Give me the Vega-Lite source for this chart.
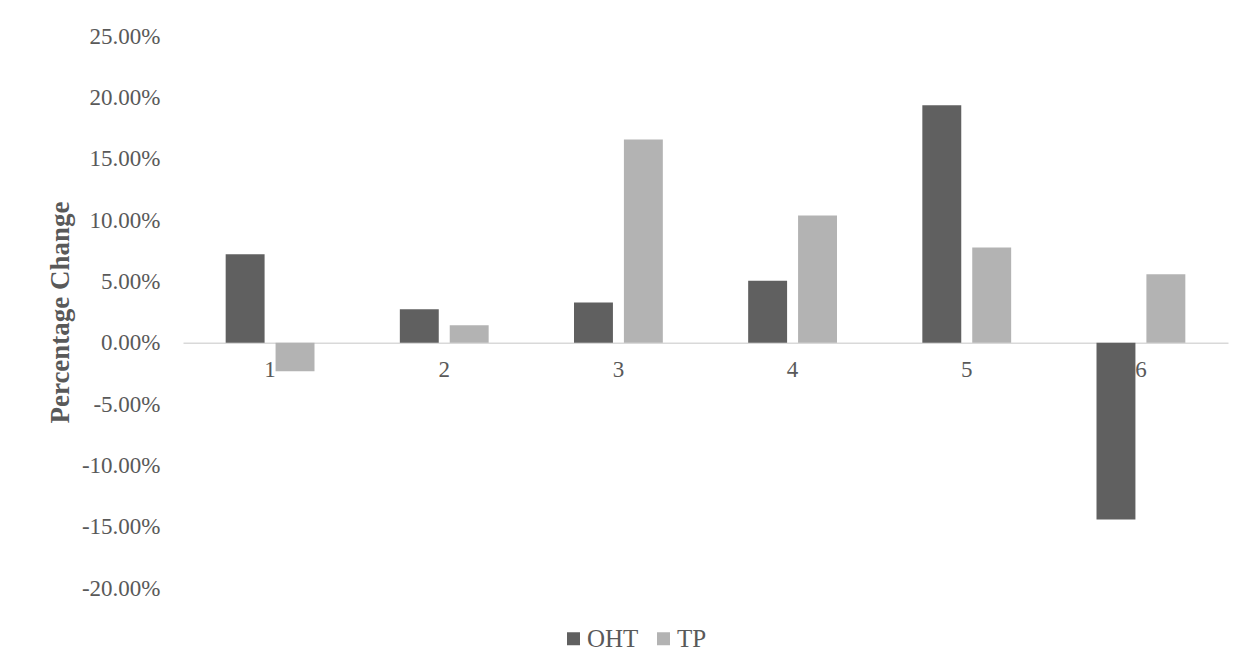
{
  "$schema": "https://vega.github.io/schema/vega-lite/v6.json",
  "autosize": {"type": "none"},
  "padding": {"left": 183, "top": 36, "right": 24, "bottom": 84},
  "width": 1045,
  "height": 552,
  "background": "white",
  "config": {
    "view": {"stroke": null},
    "font": "Liberation Serif",
    "axis": {"labelFont": "Liberation Serif", "titleFont": "Liberation Serif", "labelColor": "#595959", "titleColor": "#595959"},
    "legend": {"labelFont": "Liberation Serif", "labelColor": "#595959"}
  },
  "data": {
    "values": [
      {"group": "1", "series": "OHT", "value": 0.072},
      {"group": "1", "series": "TP", "value": -0.0234},
      {"group": "2", "series": "OHT", "value": 0.0272},
      {"group": "2", "series": "TP", "value": 0.0143},
      {"group": "3", "series": "OHT", "value": 0.0328},
      {"group": "3", "series": "TP", "value": 0.1657},
      {"group": "4", "series": "OHT", "value": 0.0505},
      {"group": "4", "series": "TP", "value": 0.1037},
      {"group": "5", "series": "OHT", "value": 0.1936},
      {"group": "5", "series": "TP", "value": 0.0775},
      {"group": "6", "series": "OHT", "value": -0.1441},
      {"group": "6", "series": "TP", "value": 0.0557}
    ]
  },
  "mark": {"type": "bar"},
  "encoding": {
    "x": {
      "field": "group",
      "type": "nominal",
      "scale": {"paddingInner": 0.49, "paddingOuter": 0.245},
      "axis": {
        "title": null,
        "labelAngle": 0,
        "labelFontSize": 23,
        "labelPadding": 16,
        "ticks": false,
        "domainColor": "#d9d9d9",
        "domainWidth": 1.5,
        "offset": -245.33,
        "zindex": 0
      }
    },
    "xOffset": {
      "field": "series",
      "type": "nominal",
      "scale": {"paddingInner": 0.22, "paddingOuter": 0}
    },
    "y": {
      "field": "value",
      "type": "quantitative",
      "scale": {"domain": [-0.2, 0.25], "nice": false, "zero": false},
      "axis": {
        "title": "Percentage Change",
        "titleFontSize": 27,
        "titleFontWeight": "bold",
        "titlePadding": 7,
        "labelExpr": "replace(format(datum.value, '.2%'), '\u2212', '-')",
        "values": [-0.2, -0.15, -0.1, -0.05, 0, 0.05, 0.1, 0.15, 0.2, 0.25],
        "labelFontSize": 23,
        "labelPadding": 23,
        "ticks": false,
        "domain": false,
        "grid": false
      }
    },
    "color": {
      "field": "series",
      "type": "nominal",
      "scale": {"domain": ["OHT", "TP"], "range": ["#606060", "#b3b3b3"]},
      "legend": {
        "title": null,
        "orient": "none",
        "legendX": 378,
        "legendY": 590,
        "direction": "horizontal",
        "symbolType": "square",
        "symbolSize": 169,
        "symbolStrokeWidth": 0,
        "labelFontSize": 25,
        "labelOffset": 1,
        "columnPadding": 12
      }
    }
  }
}
